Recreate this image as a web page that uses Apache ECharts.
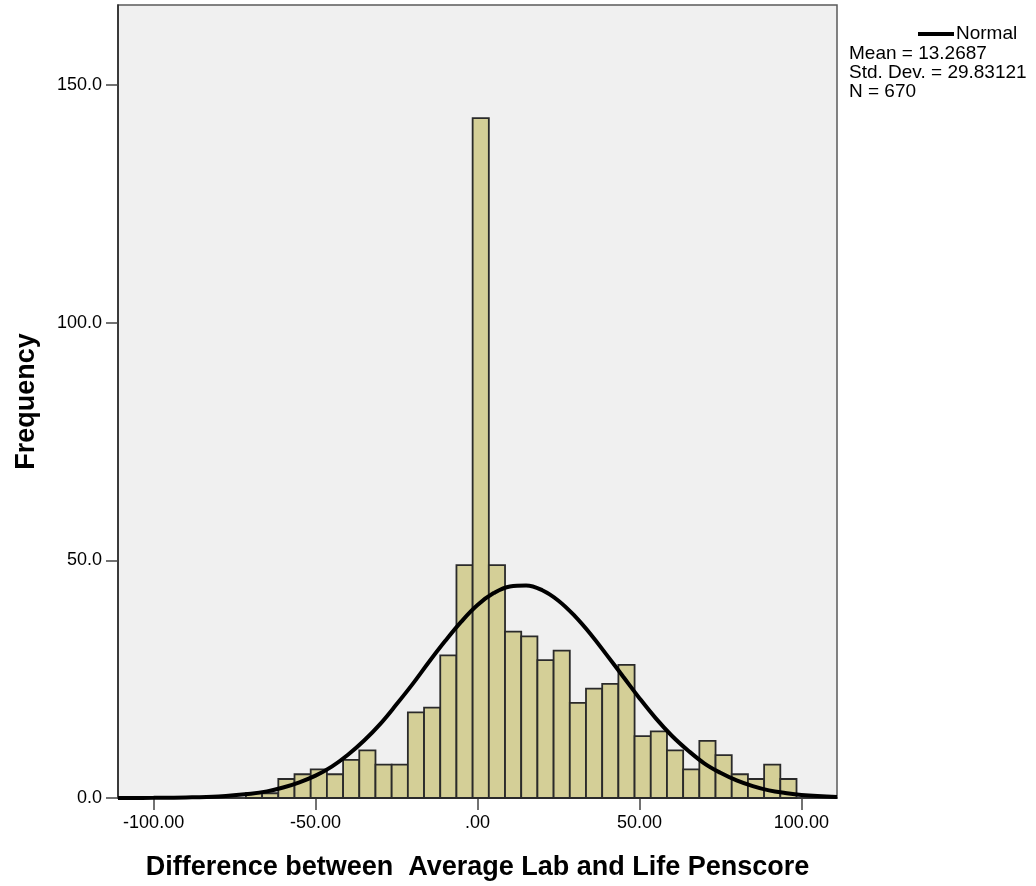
<!DOCTYPE html>
<html>
<head>
<meta charset="utf-8">
<script src="https://cdn.jsdelivr.net/npm/echarts@6/dist/echarts.min.js"></script>
<style>
  html, body { margin: 0; padding: 0; background: #ffffff; }
  #main { width: 1036px; height: 886px; }
</style>
</head>
<body>
<div id="main"></div>
<script>
// histogram bins (centre of each 5-wide bin) and counts
var binWidth = 5;
var binCenters = [-69, -64, -59, -54, -49, -44, -39, -34, -29, -24, -19, -14, -9, -4,
  1, 6, 11, 16, 21, 26, 31, 36, 41, 46, 51, 56, 61, 66, 71, 76, 81, 86, 91, 96];
var counts = [1, 1, 4, 5, 6, 5, 8, 10, 7, 7, 18, 19, 30, 49,
  143, 49, 35, 34, 29, 31, 20, 23, 24, 28, 13, 14, 10, 6, 12, 9, 5, 4, 7, 4];

// normal curve
var curveX = [-111, -100, -90, -80, -70, -65, -60, -55, -50, -45, -40, -35, -30, -25, -20, -15,
  -10, -5, 0, 5, 10, 15, 20, 25, 30, 35, 40, 45, 50, 55, 60, 65, 70, 75, 80, 85, 90, 95, 100, 111];
var curveY = [0.01, 0.03, 0.11, 0.34, 0.91, 1.4, 2.2, 3.3, 4.7, 6.6, 9.1, 12.1, 15.6, 19.7, 24.0, 28.6,
  33.0, 37.1, 40.6, 43.1, 44.5, 44.7, 43.7, 41.5, 38.3, 34.4, 30.0, 25.5, 21.0, 16.8, 13.1, 10.0, 7.3, 5.3, 3.7, 2.5, 1.6, 1.05, 0.65, 0.2];

var xTicks = [-100, -50, 0, 50, 100];
var yTicks = [0, 50, 100, 150];
var legendLines = ['Mean = 13.2687', 'Std. Dev. = 29.83121', 'N = 670'];

var histData = [];
for (var i = 0; i < binCenters.length; i++) {
  histData.push([binCenters[i], counts[i]]);
}
var curveData = [];
for (var j = 0; j < curveX.length; j++) {
  curveData.push([curveX[j], curveY[j]]);
}

var font = '"Liberation Sans", Arial, sans-serif';
var chart = echarts.init(document.getElementById('main'));

chart.setOption({
  animation: false,
  backgroundColor: '#ffffff',
  grid: {
    left: 118, right: 199, top: 5, bottom: 86,
    show: true,
    backgroundColor: '#f0f0f0',
    borderColor: '#5a5a5a',
    borderWidth: 1.5
  },
  xAxis: {
    type: 'value',
    min: -111,
    max: 111,
    name: 'Difference between  Average Lab and Life Penscore',
    nameLocation: 'middle',
    nameGap: 56,
    nameTextStyle: { fontFamily: font, fontWeight: 'bold', fontSize: 27, color: '#000' },
    splitLine: { show: false },
    axisLine: { onZero: false, lineStyle: { color: '#222', width: 1.5 } },
    axisTick: { length: 12, customValues: xTicks, lineStyle: { color: '#444', width: 1.5 } },
    axisLabel: {
      customValues: xTicks,
      margin: 16,
      fontFamily: font, fontSize: 18, color: '#000',
      formatter: function (v) { return v === 0 ? '.00' : v.toFixed(2); }
    }
  },
  yAxis: {
    type: 'value',
    min: 0,
    max: 166.8,
    name: 'Frequency',
    nameLocation: 'middle',
    nameGap: 78,
    nameTextStyle: { fontFamily: font, fontWeight: 'bold', fontSize: 27, color: '#000' },
    splitLine: { show: false },
    axisLine: { show: true, onZero: false, lineStyle: { color: '#222', width: 1.5 } },
    axisTick: { show: true, length: 12, customValues: yTicks, lineStyle: { color: '#444', width: 1.5 } },
    axisLabel: {
      customValues: yTicks,
      margin: 16,
      fontFamily: font, fontSize: 18, color: '#000',
      formatter: function (v) { return v.toFixed(1); }
    }
  },
  series: [
    {
      type: 'custom',
      data: histData,
      renderItem: function (params, api) {
        var c = api.value(0);
        var h = api.value(1);
        var p0 = api.coord([c - binWidth / 2, h]);
        var p1 = api.coord([c + binWidth / 2, 0]);
        return {
          type: 'rect',
          shape: { x: p0[0], y: p0[1], width: p1[0] - p0[0], height: p1[1] - p0[1] },
          style: { fill: '#d4cf97', stroke: '#2a2a2a', lineWidth: 1.8 }
        };
      },
      z: 2
    },
    {
      type: 'line',
      data: curveData,
      smooth: 0.4,
      symbol: 'none',
      lineStyle: { color: '#000', width: 4 },
      z: 3
    }
  ],
  graphic: [
    { type: 'line', shape: { x1: 918, y1: 34, x2: 954, y2: 34 }, style: { stroke: '#000', lineWidth: 4 } },
    { type: 'text', left: 956, top: 24, style: { text: 'Normal', font: '19px ' + font, fill: '#000' } },
    { type: 'text', left: 849, top: 44, style: { text: legendLines[0], font: '19px ' + font, fill: '#000' } },
    { type: 'text', left: 849, top: 63, style: { text: legendLines[1], font: '19px ' + font, fill: '#000' } },
    { type: 'text', left: 849, top: 82, style: { text: legendLines[2], font: '19px ' + font, fill: '#000' } }
  ]
});
</script>
</body>
</html>
